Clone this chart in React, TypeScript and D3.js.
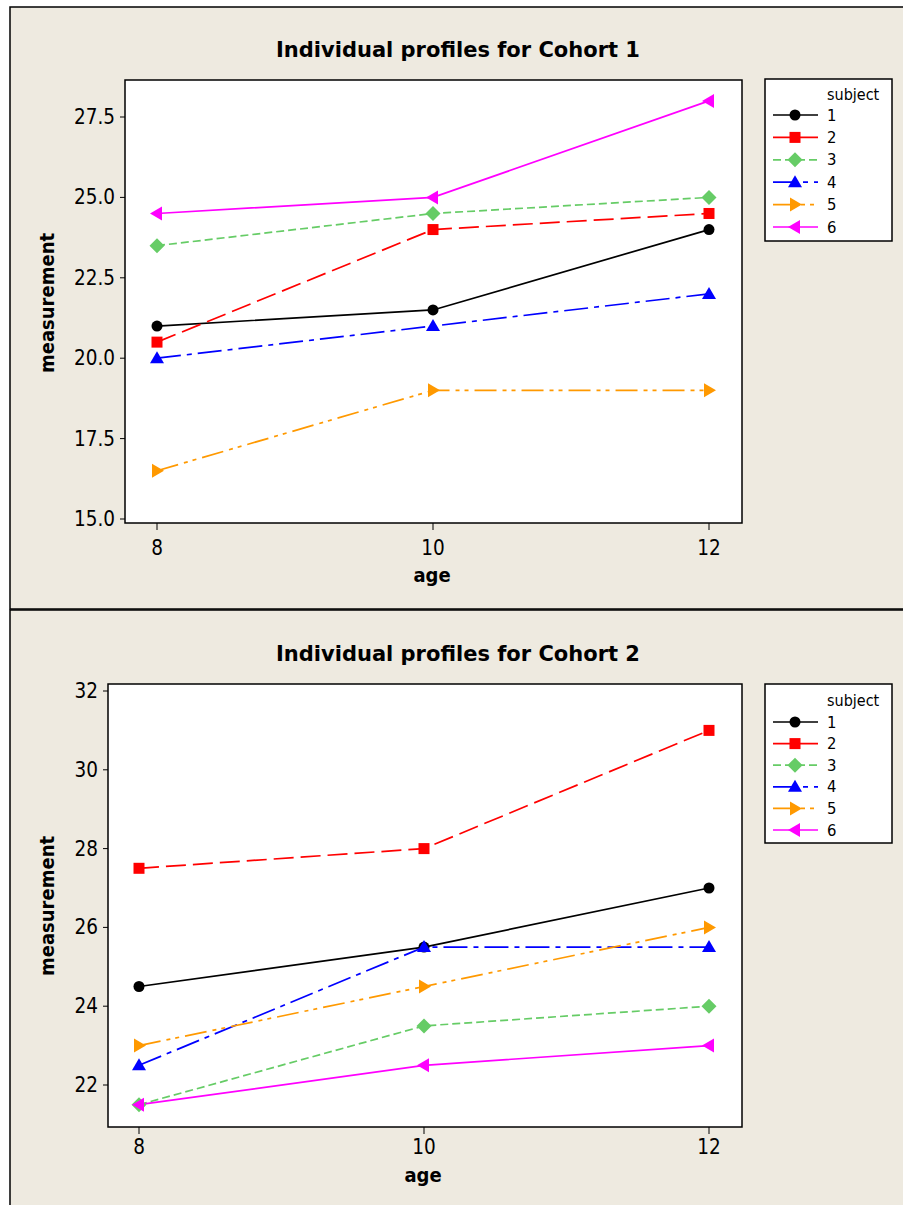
import React from 'react';
import * as d3 from 'd3';

const ages = [8, 10, 12];
const subjects = ['1', '2', '3', '4', '5', '6'];
const cohort1 = [
  [21.0, 21.5, 24.0],
  [20.5, 24.0, 24.5],
  [23.5, 24.5, 25.0],
  [20.0, 21.0, 22.0],
  [16.5, 19.0, 19.0],
  [24.5, 25.0, 28.0],
];
const cohort2 = [
  [24.5, 25.5, 27.0],
  [27.5, 28.0, 31.0],
  [21.5, 23.5, 24.0],
  [22.5, 25.5, 25.5],
  [23.0, 24.5, 26.0],
  [21.5, 22.5, 23.0],
];
const yTicks1 = [15, 17.5, 20, 22.5, 25, 27.5];
const yTicks2 = [22, 24, 26, 28, 30, 32];
const colors = ['#000000', '#FF0000', '#66CC66', '#0000FF', '#FF9900', '#FF00FF'];
const dashes = [null, '20,7', '8,4', '24,6,5,6', '22,6,4,5,4,6', null];
const symbols = ['circle', 'square', 'diamond', 'triUp', 'triRight', 'triLeft'];

const FONT = '"DejaVu Sans Condensed", "DejaVu Sans", Tahoma, sans-serif';
const TFONT = '"DejaVu Sans", Tahoma, sans-serif';
const BG = '#EEEAE0';

function Marker({ kind, x, y, color }: { kind: string; x: number; y: number; color: string }) {
  switch (kind) {
    case 'circle':
      return <circle cx={x} cy={y} r={5.5} fill={color} />;
    case 'square':
      return <rect x={x - 5.5} y={y - 5.5} width={11} height={11} fill={color} />;
    case 'diamond':
      return <path d={`M${x},${y - 7.5}L${x + 7.5},${y}L${x},${y + 7.5}L${x - 7.5},${y}Z`} fill={color} />;
    case 'triUp':
      return <path d={`M${x},${y - 7}L${x + 7},${y + 5}L${x - 7},${y + 5}Z`} fill={color} />;
    case 'triRight':
      return <path d={`M${x + 7},${y}L${x - 5},${y - 7}L${x - 5},${y + 7}Z`} fill={color} />;
    case 'triLeft':
      return <path d={`M${x - 7},${y}L${x + 5},${y - 7}L${x + 5},${y + 7}Z`} fill={color} />;
    default:
      return null;
  }
}

type Cfg = {
  title: string;
  data: number[][];
  yTicks: number[];
  fmt: (n: number) => string;
  frameY: number;
  frameH: number;
  px0: number; px1: number; py0: number; py1: number;
  xr: [number, number];
  yDom: [number, number];
  yRange: [number, number];
  titleY: number;
  xLabX: number; xLabY: number;
  yLabY: number;
  tickLabY: number;
  legY: number; legH: number; subjY: number; entryY0: number; entryStep: number;
};

function Panel({ c }: { c: Cfg }) {
  const x = d3.scaleLinear().domain([8, 12]).range(c.xr);
  const y = d3.scaleLinear().domain(c.yDom).range(c.yRange);
  const line = d3.line<number>().x((_, i) => x(ages[i])).y((v) => y(v));
  const legX = 765, legW = 127;
  return (
    <g>
      <rect x={10} y={c.frameY} width={905} height={c.frameH} fill={BG} stroke="#000" strokeWidth={1.5} />
      <text x={458} y={c.titleY} textAnchor="middle" dominantBaseline="central" fontFamily={TFONT} fontWeight="bold" fontSize={21}>{c.title}</text>
      <rect x={c.px0} y={c.py0} width={c.px1 - c.px0} height={c.py1 - c.py0} fill="#fff" stroke="#000" strokeWidth={1.5} />
      {c.yTicks.map((t) => (
        <g key={t}>
          <line x1={c.px0 - 5} x2={c.px0} y1={y(t)} y2={y(t)} stroke="#000" strokeWidth={1} />
          <text x={c.px0 - 10} y={y(t)} textAnchor="end" dominantBaseline="central" fontFamily={FONT} fontSize={20.5}>{c.fmt(t)}</text>
        </g>
      ))}
      {ages.map((a) => (
        <g key={a}>
          <line x1={x(a)} x2={x(a)} y1={c.py1} y2={c.py1 + 7} stroke="#000" strokeWidth={1} />
          <text x={x(a)} y={c.tickLabY} textAnchor="middle" dominantBaseline="central" fontFamily={FONT} fontSize={20.5}>{a}</text>
        </g>
      ))}
      <text x={c.xLabX} y={c.xLabY} textAnchor="middle" dominantBaseline="central" fontFamily={FONT} fontWeight="bold" fontSize={20}>age</text>
      <text transform={`translate(47,${c.yLabY}) rotate(-90)`} textAnchor="middle" dominantBaseline="central" fontFamily={FONT} fontWeight="bold" fontSize={20}>measurement</text>
      {c.data.map((s, i) => (
        <path key={'l' + i} d={line(s) || ''} fill="none" stroke={colors[i]} strokeWidth={1.7} strokeDasharray={dashes[i] || undefined} />
      ))}
      {c.data.map((s, i) => (
        <g key={'m' + i}>
          {s.map((v, j) => (
            <Marker key={j} kind={symbols[i]} x={x(ages[j])} y={y(v)} color={colors[i]} />
          ))}
        </g>
      ))}
      <rect x={legX} y={c.legY} width={legW} height={c.legH} fill="#fff" stroke="#000" strokeWidth={1.5} />
      <text x={827} y={c.subjY} dominantBaseline="central" fontFamily={FONT} fontSize={16}>subject</text>
      {subjects.map((s, i) => {
        const yy = c.entryY0 + i * c.entryStep;
        return (
          <g key={s}>
            <line x1={773} x2={818} y1={yy} y2={yy} stroke={colors[i]} strokeWidth={1.7} strokeDasharray={dashes[i] || undefined} />
            <Marker kind={symbols[i]} x={795} y={yy} color={colors[i]} />
            <text x={827} y={yy} dominantBaseline="central" fontFamily={FONT} fontSize={16.5}>{s}</text>
          </g>
        );
      })}
    </g>
  );
}

export default function App() {
  const c1: Cfg = {
    title: 'Individual profiles for Cohort 1',
    data: cohort1,
    yTicks: yTicks1,
    fmt: d3.format('.1f'),
    frameY: 7, frameH: 602,
    px0: 125, px1: 742, py0: 80, py1: 523,
    xr: [157, 709],
    yDom: [15, 27.5], yRange: [519, 117],
    titleY: 50,
    xLabX: 432, xLabY: 575,
    yLabY: 303,
    tickLabY: 548,
    legY: 79, legH: 162, subjY: 94, entryY0: 115, entryStep: 22.4,
  };
  const c2: Cfg = {
    title: 'Individual profiles for Cohort 2',
    data: cohort2,
    yTicks: yTicks2,
    fmt: d3.format('d'),
    frameY: 610, frameH: 620,
    px0: 108, px1: 742, py0: 684, py1: 1127,
    xr: [139, 709],
    yDom: [22, 32], yRange: [1085, 691],
    titleY: 654,
    xLabX: 423, xLabY: 1175,
    yLabY: 906,
    tickLabY: 1147,
    legY: 684, legH: 159, subjY: 700, entryY0: 722, entryStep: 21.6,
  };
  return (
    <svg width={903} height={1205} style={{ position: 'absolute', left: 0, top: 0, background: '#fff' }}>
      <Panel c={c1} />
      <Panel c={c2} />
    </svg>
  );
}
